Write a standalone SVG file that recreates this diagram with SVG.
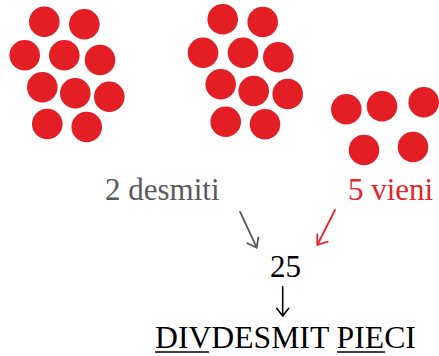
<svg xmlns="http://www.w3.org/2000/svg" width="439" height="356" viewBox="0 0 439 356">
<style>
.dot{fill:#E31E24}
.t{font-family:"Liberation Serif","Times New Roman",serif;font-size:31px}
.ul{fill:none;stroke:#000;stroke-width:1.6}
</style>
<rect width="439" height="356" fill="#fff"/>
<g id="desmiti-dots">
<circle class="dot" cx="44.3" cy="21.7" r="15.3"/>
<circle class="dot" cx="84.3" cy="24.3" r="15.3"/>
<circle class="dot" cx="24.7" cy="55.3" r="15.3"/>
<circle class="dot" cx="64.3" cy="55.3" r="15.3"/>
<circle class="dot" cx="100" cy="60" r="15.3"/>
<circle class="dot" cx="42.3" cy="87.3" r="15.3"/>
<circle class="dot" cx="75.3" cy="93.3" r="15.3"/>
<circle class="dot" cx="109.3" cy="96.7" r="15.3"/>
<circle class="dot" cx="47.3" cy="124" r="15.3"/>
<circle class="dot" cx="86.7" cy="127" r="15.3"/>
</g>
<g id="desmiti-dots-2">
<circle class="dot" cx="222.7" cy="19.3" r="15.3"/>
<circle class="dot" cx="262.7" cy="22" r="15.3"/>
<circle class="dot" cx="203" cy="52.7" r="15.3"/>
<circle class="dot" cx="243" cy="52.7" r="15.3"/>
<circle class="dot" cx="278.3" cy="57.3" r="15.3"/>
<circle class="dot" cx="220.7" cy="84.3" r="15.3"/>
<circle class="dot" cx="253.7" cy="91" r="15.3"/>
<circle class="dot" cx="287.7" cy="94" r="15.3"/>
<circle class="dot" cx="225.7" cy="121.7" r="15.3"/>
<circle class="dot" cx="265" cy="124.3" r="15.3"/>
</g>
<g id="vieni-dots">
<circle class="dot" cx="346.3" cy="109.3" r="15.3"/>
<circle class="dot" cx="382" cy="106.3" r="15.3"/>
<circle class="dot" cx="423.7" cy="102.3" r="15.3"/>
<circle class="dot" cx="364" cy="150" r="15.3"/>
<circle class="dot" cx="413" cy="147" r="15.3"/>
</g>
<g id="label-desmiti"><text class="t" x="105" y="200" fill="#58595B">2 desmiti</text></g>
<g id="label-vieni"><text class="t" x="348" y="200" fill="#E8232A">5 vieni</text></g>
<g id="label-25"><text class="t" x="270" y="277" fill="#000">25</text></g>
<g id="label-result"><text class="t" x="155" y="348" fill="#000" style="font-size:31.7px">DIVDESMIT PIECI</text>
<line class="ul" x1="155" y1="352" x2="209" y2="352"/>
<line class="ul" x1="337" y1="352" x2="385" y2="352"/>
</g>
<g id="connectors" fill="none" stroke-linecap="round" stroke-linejoin="round">
<path d="M240,211.7 L256.7,247.7 M247.3,243.3 L256.7,247.7 L258.3,237.7" stroke="#58595B" stroke-width="1.8"/>
<path d="M335,210 L317.3,245 M327.7,241.7 L317.3,245 L317.3,234.3" stroke="#E8232A" stroke-width="1.8"/>
<path d="M282.7,286.7 L282.7,316 M276.7,308.3 L282.7,316 L288.7,308.3" stroke="#000" stroke-width="1.6"/>
</g>
</svg>
